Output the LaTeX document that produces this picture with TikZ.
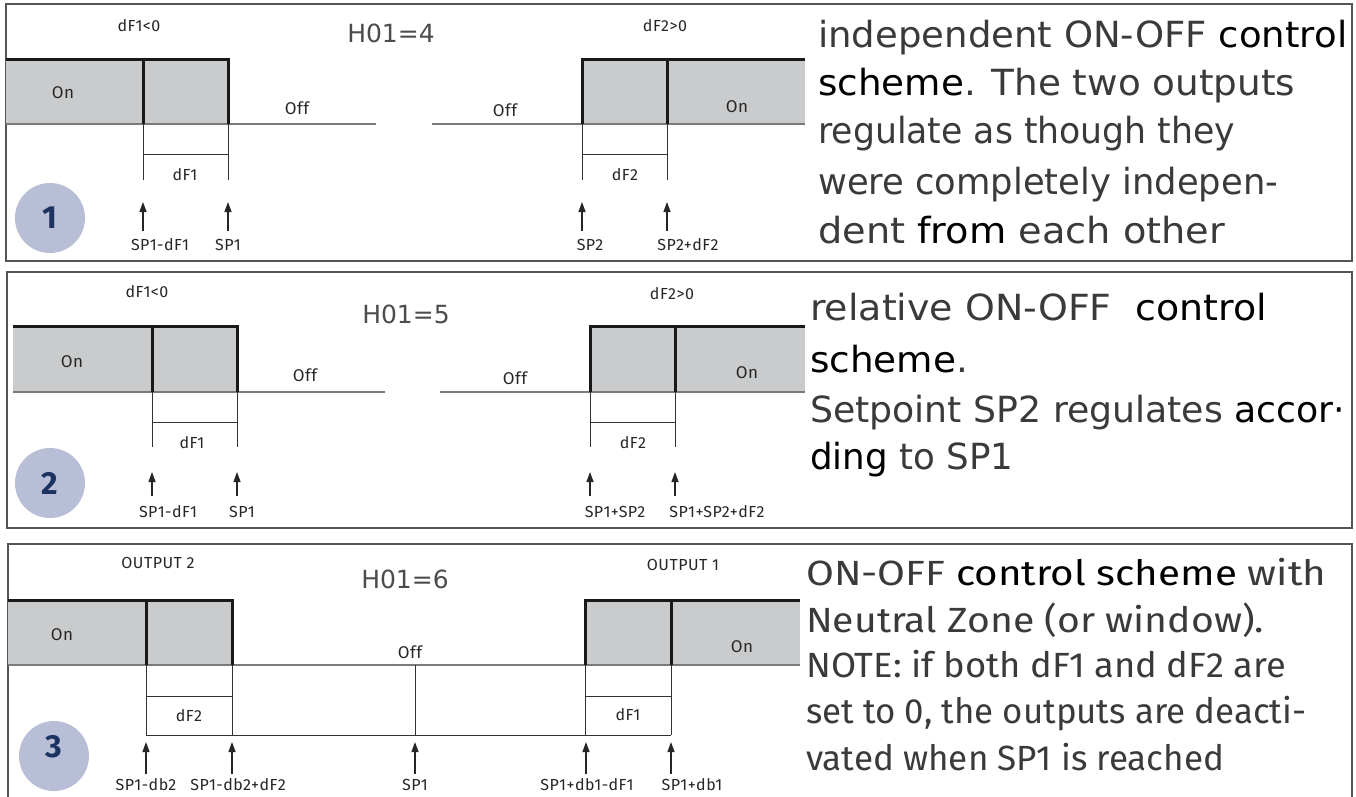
\documentclass[tikz,border=0pt]{standalone}
\usepackage{fontspec}
\usepackage{graphicx}
\setmainfont{Fira Sans}
\newfontfamily\dejavu{DejaVu Sans}
\newfontfamily\fira{Fira Sans}
\newfontfamily\firalab{Fira Sans}[LetterSpace=3.0]
\usetikzlibrary{arrows.meta}
\definecolor{onfill}{HTML}{C9CBCC}
\definecolor{basegray}{HTML}{7A7A7A}
\definecolor{framecol}{HTML}{555555}
\definecolor{circfill}{HTML}{B8BED6}
\definecolor{navy}{HTML}{1C3360}
\definecolor{txtgray}{HTML}{3A3A3A}
\newcommand\fitline[2]{\resizebox{#1pt}{\height}{#2}}
\newcommand\bk[1]{\textcolor{black}{#1}}
\begin{document}
\begin{tikzpicture}[x=1pt,y=-1pt,
  panel/.style={draw=framecol, line width=1.5pt},
  thickline/.style={draw=black!90, line width=3pt},
  baseln/.style={draw=basegray, line width=1.5pt},
  thinln/.style={draw=black!80, line width=1pt},
  arr/.style={draw=black!85, line width=1.3pt, -{Triangle[length=10pt,width=7pt]}},
  lab/.style={font=\firalab\fontsize{16}{18}\selectfont, text=black!85, inner sep=0pt},
  onoff/.style={font=\firalab\fontsize{17}{19}\selectfont, text=black!85, inner sep=0pt},
  hlab/.style={font=\dejavu\fontsize{25}{30}\selectfont, text=black!70, inner sep=0pt},
  numc/.style={circle, fill=circfill, minimum size=70pt, inner sep=0pt},
  numt/.style={font=\fira\bfseries\fontsize{32}{36}\selectfont, text=navy, inner sep=0pt},
  desc/.style={anchor=base west, inner sep=0pt, text=txtgray, font=\dejavu\fontsize{36}{40}\selectfont},
  descb/.style={anchor=base west, inner sep=0pt, text=txtgray, font=\fira\fontsize{35}{40}\selectfont}]
\useasboundingbox (0,0) rectangle (1356,796);
\fill[white] (0,0) rectangle (1356,796);

% ================= PANEL 1 =================
\draw[panel] (6,4) rectangle (1352,261);
\fill[onfill] (6,59) rectangle (228,124);
\draw[baseln] (6,124) -- (376,124);
\draw[thinln] (143,124) -- (143,180);
\draw[thinln] (228,124) -- (228,180);
\draw[thinln] (143,154) -- (228,154);
\draw[thickline] (6,59) -- (228,59) -- (228,124);
\draw[thickline] (143,59) -- (143,124);
\fill[onfill] (582,59) rectangle (805,124);
\draw[baseln] (432,124) -- (805,124);
\draw[thinln] (582,124) -- (582,180);
\draw[thinln] (667,124) -- (667,180);
\draw[thinln] (582,154) -- (667,154);
\draw[thickline] (582,124) -- (582,59) -- (805,59);
\draw[thickline] (667,59) -- (667,124);
\node[lab] (p1a) at (139,26) {dF1<0};
\node[hlab] (p1h) at (391,33) {H01=4};
\node[lab] (p1b) at (665,26) {dF2>0};
\node[onoff] (p1on1) at (63,93) {On};
\node[onoff] (p1off1) at (297,108) {Off};
\node[onoff] (p1off2) at (505,110) {Off};
\node[onoff] (p1on2) at (737,107) {On};
\node[lab] (p1d1) at (185,175) {dF1};
\node[lab] (p1d2) at (625,175) {dF2};
\coordinate (p1s1) at (143,231); \coordinate (p1t1) at (143,202);
\coordinate (p1s2) at (228,231); \coordinate (p1t2) at (228,202);
\coordinate (p1s3) at (582,231); \coordinate (p1t3) at (582,202);
\coordinate (p1s4) at (667,231); \coordinate (p1t4) at (667,202);
\draw[arr] (p1s1) -- (p1t1);
\draw[arr] (p1s2) -- (p1t2);
\draw[arr] (p1s3) -- (p1t3);
\draw[arr] (p1s4) -- (p1t4);
\node[lab] (p1l1) at (160,245) {SP1-dF1};
\node[lab] (p1l2) at (228,245) {SP1};
\node[lab] (p1l3) at (590,245) {SP2};
\node[lab] (p1l4) at (688,245) {SP2+dF2};
\node[numc] (c1) at (50,218) {};
\node[numt] (n1) at (c1) {1};
\node[desc] (t11) at (818,47) {\fitline{529}{independent ON-OFF \bk{control}}};
\node[desc] (t12) at (818,95) {\fitline{477}{\bk{scheme}. The two outputs}};
\node[desc] (t13) at (818,143) {\fitline{417}{regulate as though they}};
\node[desc] (t14) at (818,194) {\fitline{460}{were completely indepen-}};
\node[desc] (t15) at (818,243) {\fitline{407}{dent \bk{from} each other}};

% ================= PANEL 2 =================
\draw[panel] (7,272) rectangle (1352,528);
\fill[onfill] (13,326) rectangle (237,392);
\draw[baseln] (13,392) -- (385,392);
\draw[thinln] (152,392) -- (152,447);
\draw[thinln] (237,392) -- (237,447);
\draw[thinln] (152,422) -- (237,422);
\draw[thickline] (13,326) -- (237,326) -- (237,392);
\draw[thickline] (152,326) -- (152,392);
\fill[onfill] (590,326) rectangle (805,392);
\draw[baseln] (440,392) -- (805,392);
\draw[thinln] (590,392) -- (590,447);
\draw[thinln] (675,392) -- (675,447);
\draw[thinln] (590,422) -- (675,422);
\draw[thickline] (590,392) -- (590,326) -- (805,326);
\draw[thickline] (675,326) -- (675,392);
\node[lab] (p2a) at (147,292) {dF1<0};
\node[hlab] (p2h) at (406,314) {H01=5};
\node[lab] (p2b) at (672,294) {dF2>0};
\node[onoff] (p2on1) at (72,362) {On};
\node[onoff] (p2off1) at (305,375) {Off};
\node[onoff] (p2off2) at (515,378) {Off};
\node[onoff] (p2on2) at (747,373) {On};
\node[lab] (p2d1) at (192,443) {dF1};
\node[lab] (p2d2) at (633,443) {dF2};
\coordinate (p2s1) at (152,496); \coordinate (p2t1) at (152,472);
\coordinate (p2s2) at (237,496); \coordinate (p2t2) at (237,472);
\coordinate (p2s3) at (590,496); \coordinate (p2t3) at (590,472);
\coordinate (p2s4) at (675,496); \coordinate (p2t4) at (675,472);
\draw[arr] (p2s1) -- (p2t1);
\draw[arr] (p2s2) -- (p2t2);
\draw[arr] (p2s3) -- (p2t3);
\draw[arr] (p2s4) -- (p2t4);
\node[lab] (p2l1) at (168,512) {SP1-dF1};
\node[lab] (p2l2) at (242,512) {SP1};
\node[lab] (p2l3) at (615,512) {SP1+SP2};
\node[lab] (p2l4) at (717,512) {SP1+SP2+dF2};
\node[numc] (c2) at (50,483) {};
\node[numt] (n2) at (c2) {2};
\node[desc] (t21) at (810,320) {\fitline{457}{relative ON-OFF \ \bk{control}}};
\node[desc] (t22) at (810,372) {\fitline{158}{\bk{scheme}.}};
\node[desc] (t23) at (810,422) {\fitline{535}{Setpoint SP2 regulates \bk{accor·}}};
\node[desc] (t24) at (810,469) {\fitline{203}{\bk{ding} to SP1}};

% ================= PANEL 3 =================
\draw[panel] (8,800) -- (8,544) -- (1352,544) -- (1352,800);
\fill[onfill] (8,600) rectangle (232,665);
\fill[onfill] (585,600) rectangle (800,665);
\draw[baseln] (8,665) -- (800,665);
\draw[thinln] (146,665) -- (146,735);
\draw[thinln] (232,665) -- (232,735);
\draw[thinln] (146,696) -- (232,696);
\draw[thinln] (585,665) -- (585,735);
\draw[thinln] (671,665) -- (671,735);
\draw[thinln] (585,696) -- (671,696);
\draw[thinln] (146,735) -- (671,735);
\draw[thinln] (415,665) -- (415,735);
\draw[thickline] (8,600) -- (232,600) -- (232,665);
\draw[thickline] (146,600) -- (146,665);
\draw[thickline] (585,665) -- (585,600) -- (800,600);
\draw[thickline] (671,600) -- (671,665);
\node[lab] (p3a) at (158,563) {OUTPUT 2};
\node[hlab] (p3h) at (405,579) {H01=6};
\node[lab] (p3b) at (683,565) {OUTPUT 1};
\node[onoff] (p3on1) at (62,635) {On};
\node[onoff] (p3off) at (410,652) {Off};
\node[onoff] (p3on2) at (742,647) {On};
\node[lab] (p3d2) at (189,716) {dF2};
\node[lab] (p3d1) at (628,715) {dF1};
\coordinate (p3s1) at (146,774); \coordinate (p3t1) at (146,742);
\coordinate (p3s2) at (232,774); \coordinate (p3t2) at (232,742);
\coordinate (p3s3) at (415,774); \coordinate (p3t3) at (415,742);
\coordinate (p3s4) at (586,774); \coordinate (p3t4) at (586,742);
\coordinate (p3s5) at (671,774); \coordinate (p3t5) at (671,742);
\draw[arr] (p3s1) -- (p3t1);
\draw[arr] (p3s2) -- (p3t2);
\draw[arr] (p3s3) -- (p3t3);
\draw[arr] (p3s4) -- (p3t4);
\draw[arr] (p3s5) -- (p3t5);
\node[lab] (p3l1) at (146,785) {SP1-db2};
\node[lab] (p3l2) at (238,785) {SP1-db2+dF2};
\node[lab] (p3l3) at (415,785) {SP1};
\node[lab] (p3l4) at (587,785) {SP1+db1-dF1};
\node[lab] (p3l5) at (692,785) {SP1+db1};
\node[numc] (c3) at (54,756) {};
\node[numt] (n3) at (54,747) {3};
\node[descb] (t31) at (806,585) {\fitline{520}{ON-OFF \bk{control scheme} with}};
\node[descb] (t32) at (806,632) {\fitline{458}{Neutral Zone (or window).}};
\node[descb] (t33) at (806,677) {\fitline{480}{NOTE: if both dF1 and dF2 are}};
\node[descb] (t34) at (806,723) {\fitline{500}{set to 0, the outputs are deacti-}};
\node[descb] (t35) at (806,770) {\fitline{418}{vated when SP1 is reached}};
\end{tikzpicture}
\end{document}
